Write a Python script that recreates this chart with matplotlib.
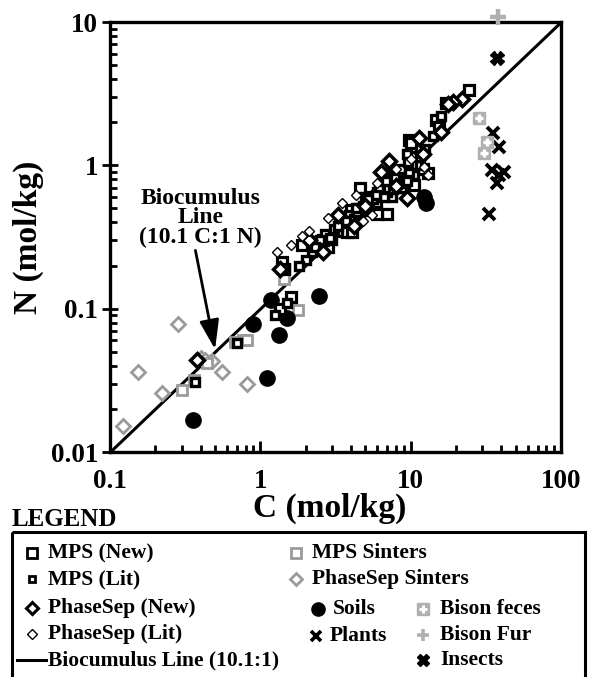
import matplotlib
matplotlib.use("Agg")
import matplotlib.pyplot as plt
from matplotlib.patches import Rectangle

plt.rcParams['font.family'] = ['Liberation Serif', 'DejaVu Serif']
plt.rcParams['font.weight'] = 'bold'

# ---------------- data (C, N in mol/kg) ----------------
mps_new_c = [24.4, 17.1, 14.7, 15.4, 9.7, 10.0, 13.0, 10.5, 7.0, 4.6, 4.0, 3.6, 3.8, 4.1,
             3.26, 2.8, 6.0, 1.4, 1.6, 1.36, 8.5, 12.0, 7.5, 5.5, 2.3, 2.6, 1.9, 10.0, 1.43]
mps_new_n = [3.35, 2.72, 2.07, 1.85, 1.5, 1.34, 0.88, 0.73, 0.46, 0.69, 0.49, 0.40, 0.34, 0.34,
             0.35, 0.27, 0.46, 0.21, 0.12, 0.10, 0.75, 0.95, 0.8, 0.6, 0.26, 0.3, 0.28, 1.43, 0.19]

mps_lit_c = [16.0, 14.0, 9.5, 9.0, 8.0, 8.5, 7.2, 6.5, 6.0, 5.5, 5.0, 4.5, 3.9, 3.4, 3.0,
             2.7, 2.4, 2.2, 2.0, 1.8, 1.45, 1.5, 1.25, 0.7, 0.37, 11.0, 10.5, 7.5, 5.2, 6.8,
             4.2, 4.6, 5.3, 5.8, 6.3, 6.8, 7.3, 7.8, 8.3, 8.8, 9.2, 7.0, 6.0, 5.0, 4.4, 3.1,
             2.9, 8.6, 9.8,
             5.6, 6.2, 6.6, 7.1, 7.6, 8.1, 8.7, 9.0, 9.4, 7.9, 6.9, 5.9, 5.2, 4.8, 4.3, 3.7,
             3.3, 2.5, 2.3, 11.5, 12.5, 10.2, 9.6]
mps_lit_n = [2.2, 1.6, 1.2, 0.9, 0.85, 0.7, 0.8, 0.7, 0.65, 0.55, 0.6, 0.5, 0.45, 0.42, 0.3,
             0.33, 0.28, 0.25, 0.22, 0.2, 0.19, 0.11, 0.09, 0.058, 0.031, 1.0, 0.85, 0.6, 0.48, 0.9,
             0.42, 0.46, 0.52, 0.6, 0.62, 0.68, 0.72, 0.75, 0.8, 0.78, 0.82, 0.65, 0.55, 0.5, 0.47,
             0.36, 0.31, 0.95, 0.9,
             0.58, 0.68, 0.6, 0.7, 0.68, 0.72, 0.7, 0.75, 0.78, 0.82, 0.78, 0.62, 0.58, 0.52, 0.5,
             0.41, 0.38, 0.3, 0.27, 1.15, 1.3, 1.0, 1.05]

ps_new_c = [22.0, 19.0, 17.7, 11.3, 7.2, 6.3, 9.5, 8.0, 5.0, 3.3, 2.1, 2.6, 12.0, 16.0, 0.38, 1.35, 4.2]
ps_new_n = [2.9, 2.75, 2.7, 1.55, 1.07, 0.9, 0.59, 0.72, 0.52, 0.45, 0.3, 0.25, 1.2, 1.7, 0.044, 0.19, 0.38]

ps_lit_c = [1.29, 1.9, 2.1, 3.5, 4.3, 6.0, 12.2, 13.0, 5.5, 4.8, 8.0, 2.8, 1.6, 10.0]
ps_lit_n = [0.25, 0.32, 0.35, 0.55, 0.62, 0.75, 0.97, 0.85, 0.45, 0.41, 0.95, 0.43, 0.28, 1.1]

mps_sint_c = [0.36, 0.30, 0.44, 0.77, 0.82, 1.43, 1.79, 0.68]
mps_sint_n = [0.032, 0.027, 0.042, 0.060, 0.060, 0.16, 0.098, 0.059]

ps_sint_c = [0.284, 0.154, 0.222, 0.122, 0.40, 0.48, 0.56, 0.82, 0.43]
ps_sint_n = [0.078, 0.036, 0.026, 0.0152, 0.045, 0.043, 0.036, 0.030, 0.044]

soils_c = [0.357, 1.10, 0.90, 1.34, 1.51, 1.17, 2.44, 12.3, 12.6]
soils_n = [0.0167, 0.033, 0.078, 0.065, 0.086, 0.115, 0.122, 0.60, 0.55]

plants_c = [35.2, 38.6, 35.0, 41.7, 37.8, 33.1, 38.5]
plants_n = [1.68, 1.34, 0.93, 0.90, 0.75, 0.46, 0.85]

feces_c = [28.4, 32.0, 30.6]
feces_n = [2.14, 1.45, 1.22]

fur_c = [38.0]
fur_n = [10.8]

insects_c = [37.8]
insects_n = [5.6]

line_ratio = 10.1
line_c = [0.1, 100.0]

x_ticks = [0.1, 1, 10, 100]
x_ticklabels = ['0.1', '1', '10', '100']
y_ticks = [0.01, 0.1, 1, 10]
y_ticklabels = ['0.01', '0.1', '1', '10']

# ---------------- figure ----------------
W, H = 592, 677
fig = plt.figure(figsize=(W / 100, H / 100), dpi=100)
ax = fig.add_axes([110 / W, 1 - 452 / H, 451 / W, 430 / H])
ax.set_xscale('log')
ax.set_yscale('log')
ax.set_xlim(0.1, 100)
ax.set_ylim(0.01, 10)

GREY = '#9a9a9a'
LGREY = '#b0b0b0'

# biocumulus line
ax.plot(line_c, [c / line_ratio for c in line_c], color='black', lw=2.2, zorder=2)

# series
ax.plot(ps_sint_c, ps_sint_n, 'D', ms=7, mfc='white', mec=GREY, mew=2.0, ls='none', zorder=3)
ax.plot(mps_sint_c, mps_sint_n, 's', ms=7.5, mfc='white', mec=GREY, mew=2.0, ls='none', zorder=3)
ax.plot(soils_c, soils_n, 'o', ms=11, color='black', ls='none', zorder=4)
ax.plot(mps_new_c, mps_new_n, 's', ms=7.5, mfc='white', mec='black', mew=2.3, ls='none', zorder=5)
ax.plot(mps_lit_c, mps_lit_n, 's', ms=6, mfc='white', mec='black', mew=2.4, ls='none', zorder=5)
ax.plot(ps_new_c, ps_new_n, 'D', ms=7.5, mfc='white', mec='black', mew=2.5, ls='none', zorder=5)
ax.plot(ps_lit_c, ps_lit_n, 'D', ms=5.5, mfc='white', mec='black', mew=1.0, ls='none', zorder=6)
ax.plot(plants_c, plants_n, 'x', ms=8.5, color='black', mew=2.8, ls='none', zorder=5)
ax.plot(feces_c, feces_n, 's', ms=9, color=LGREY, ls='none', zorder=5)
ax.plot(feces_c, feces_n, '+', ms=6, color='white', mew=2.4, ls='none', zorder=6)
ax.plot(fur_c, fur_n, '+', ms=11, color=LGREY, mew=3.2, ls='none', zorder=7, clip_on=False)
ax.plot(insects_c, insects_n, 'X', ms=10, color='black', ls='none', zorder=5)

# annotation
ax.text(0.40, 0.43, 'Biocumulus\nLine\n(10.1 C:1 N)', ha='center', va='center',
        fontsize=17, fontweight='bold', linespacing=0.92, zorder=8)
ax.annotate('', xy=(0.5, 0.052), xytext=(0.37, 0.255),
            arrowprops=dict(arrowstyle='-|>,head_length=0.9,head_width=0.3', color='black', lw=2,
                            mutation_scale=20, shrinkA=0, shrinkB=0), zorder=8)

# axes styling
for s in ax.spines.values():
    s.set_linewidth(2.4)
ax.set_xticks(x_ticks)
ax.set_xticklabels(x_ticklabels)
ax.set_yticks(y_ticks)
ax.set_yticklabels(y_ticklabels)
ax.tick_params(axis='both', which='major', labelsize=19.5, width=2)
ax.tick_params(axis='x', which='major', direction='in', length=8, pad=12)
ax.tick_params(axis='y', which='major', direction='inout', length=11, pad=3)
ax.tick_params(axis='both', which='minor', direction='in', length=5, width=2)
ax.tick_params(top=False, right=False, which='both')
for lab in ax.get_xticklabels() + ax.get_yticklabels():
    lab.set_fontweight('bold')

ax.set_xlabel('C (mol/kg)', fontsize=24, fontweight='bold')
ax.set_ylabel('N (mol/kg)', fontsize=24, fontweight='bold')
ax.xaxis.set_label_coords((330 - 110) / 451, -(508 - 452) / 430)
ax.yaxis.set_label_coords(-(110 - 28) / 451, 1 - (237 - 22) / 430)
ax.xaxis.label.set_va('center')
ax.yaxis.label.set_va('center')

# ---------------- legend (drawn manually) ----------------
lax = fig.add_axes([0, 0, 1, 1], zorder=-1)
lax.set_xlim(0, W)
lax.set_ylim(H, 0)
lax.axis('off')

lax.text(12, 520, 'LEGEND', fontsize=18, fontweight='bold', va='center', ha='left')
lax.add_patch(Rectangle((12, 532), 573, 160, fill=False, lw=2.2, ec='black', clip_on=False))

fs = 15.5
items = [
    (32, 553, dict(marker='s', ms=6.5, mfc='white', mec='black', mew=2.0), 'MPS (New)', 48),
    (32, 579, dict(marker='s', ms=5, mfc='white', mec='black', mew=2.0), 'MPS (Lit)', 48),
    (32, 608, dict(marker='D', ms=6, mfc='white', mec='black', mew=2.2), 'PhaseSep (New)', 48),
    (32, 634, dict(marker='D', ms=5, mfc='white', mec='black', mew=1.0), 'PhaseSep (Lit)', 48),
    (296, 553, dict(marker='s', ms=6.5, mfc='white', mec=GREY, mew=2.0), 'MPS Sinters', 312),
    (296, 579, dict(marker='D', ms=6, mfc='white', mec=GREY, mew=2.0), 'PhaseSep Sinters', 312),
    (318, 609, dict(marker='o', ms=9.5, color='black'), 'Soils', 333),
    (316, 636, dict(marker='x', ms=6.5, color='black', mew=2.6), 'Plants', 330),
    (423, 635, dict(marker='+', ms=8.5, color=LGREY, mew=2.6), 'Bison Fur', 440),
    (423, 660, dict(marker='X', ms=8.5, color='black'), 'Insects', 440),
]
for x, y, kw, label, tx in items:
    lax.plot([x], [y], ls='none', **kw)
    lax.text(tx, y, label, fontsize=fs, fontweight='bold', va='center', ha='left')
lax.plot([423], [609], 's', ms=8.5, color=LGREY)
lax.plot([423], [609], '+', ms=5.5, color='white', mew=2.2)
lax.text(440, 609, 'Bison feces', fontsize=fs, fontweight='bold', va='center', ha='left')
lax.plot([17, 46], [660, 660], color='black', lw=2.2)
lax.text(48, 660, 'Biocumulus Line (10.1:1)', fontsize=fs, fontweight='bold', va='center', ha='left')

fig.savefig('out.png', dpi=100)
